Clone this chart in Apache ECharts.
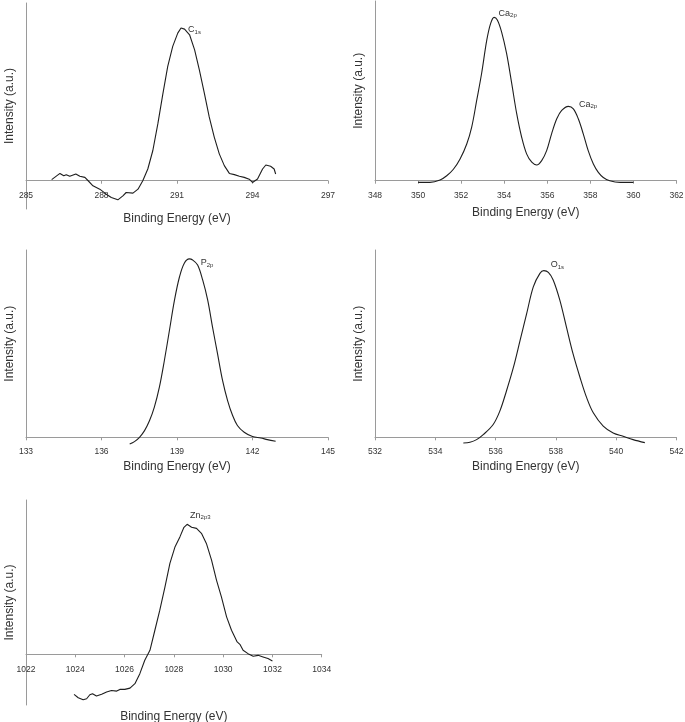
<!DOCTYPE html>
<html><head><meta charset="utf-8">
<script src="https://cdn.jsdelivr.net/npm/echarts@6/dist/echarts.min.js"></script>
<style>html,body{margin:0;padding:0;background:#fff}#c{width:685px;height:722px}</style>
</head><body><div id="c"></div><script>
// ---- data (binding energy eV, relative intensity) ----
const c1sX=[286.02,286.35,286.5,286.6,286.74,286.98,287.14,287.34,287.47,287.66,287.93,288.19,288.39,288.65,288.85,288.98,289.25,289.45,289.64,289.84,290.04,290.24,290.44,290.63,290.83,291.03,291.16,291.3,291.5,291.7,291.89,292.09,292.28,292.48,292.68,292.88,293.08,293.28,293.48,293.67,293.87,294.0,294.2,294.4,294.53,294.72,294.86,294.92];
const c1sY=[0.7,4.8,3.3,4,2.9,4.4,2.9,2.2,0,-3.3,-5.5,-8.8,-11,-12.5,-9.9,-7.7,-8.1,-5.5,0,7.7,19.8,37.4,57,74.7,88,96.7,100,99.3,95.6,85.7,72.5,57,41.8,28.6,17.6,9.9,4.8,4,3,2.2,1,-1.1,1.1,7.7,10.3,9.5,7.7,4.4];
const caX=[350.0,350.55,351.02,351.33,351.64,351.95,352.26,352.49,352.72,352.95,353.19,353.37,353.53,353.68,353.88,354.11,354.35,354.58,354.81,355.04,355.28,355.51,355.74,355.97,356.2,356.44,356.67,356.98,357.21,357.44,357.67,357.9,358.14,358.37,358.6,358.9,359.38,360];
const caY=[-1,-1,0.4,3,7,13.3,22.5,32.8,49,65.6,86,96.3,100,98.4,91,77.9,59.4,41,26.6,16.4,11.3,9.6,12.3,18.4,28.7,37.9,43,45.5,44,37.9,28.7,18.4,10.2,5.1,2,0,-1,-1];
const p2pX=[137.12,137.31,137.51,137.71,137.91,138.1,138.3,138.5,138.7,138.9,139.1,139.29,139.49,139.62,139.82,140.02,140.22,140.41,140.61,140.81,141.01,141.21,141.4,141.67,142,142.33,142.59,142.92];
const p2pY=[-3.75,-2.4,0,3.75,9.4,16.9,28.1,43.2,60,76.9,90,97.6,100,99.4,96.6,88.2,76.9,61.9,46.9,31.9,20.6,12.2,6.6,2.8,0.4,-0.4,-1.3,-2.25];
const o1sX=[534.93,535.15,535.37,535.59,535.92,536.14,536.36,536.59,536.81,537.03,537.25,537.47,537.6,537.75,537.91,538.13,538.35,538.57,538.8,539.02,539.24,539.57,539.9,540.23,540.56,540.95];
const o1sY=[-3.4,-3,-1.4,1.6,7.7,15.7,27.8,41.9,58,74.2,90.3,98.4,100,99,94.4,82.3,66.1,50,35.9,23.8,14.7,6.7,2.6,0.6,-1.4,-3.2];
const znX=[1023.95,1024.12,1024.32,1024.46,1024.59,1024.7,1024.86,1025.07,1025.27,1025.47,1025.68,1025.81,1026.01,1026.22,1026.42,1026.62,1026.82,1027.03,1027.23,1027.43,1027.64,1027.84,1028.05,1028.25,1028.41,1028.54,1028.72,1028.92,1029.12,1029.32,1029.53,1029.73,1029.93,1030.14,1030.34,1030.57,1030.68,1030.81,1031.01,1031.22,1031.42,1031.62,1031.82,1032];
const znY=[-30.8,-33.4,-35,-34.2,-31.1,-30.3,-32.1,-30.8,-29,-27.8,-28.3,-27,-27,-26,-22.6,-14.9,-4.6,3.1,18.5,33.9,51.9,69.9,82.8,90.5,97.7,100,97.7,96.9,93.1,85.3,72.5,57.1,44.2,28.8,18.5,9.5,7.7,3.1,0.5,-1.5,-0.8,-2,-3.3,-5.1];
// axis ranges
const xRanges=[[285,297,3],[348,362,2],[133,145,3],[532,542,2],[1022,1034,2]];
// peak annotations: [element, subscript, x, y]
const c1sAnn=[['C','1s',291.44,99]];
const caAnn=[['Ca','2p',353.74,102.6],['Ca','2p',357.47,46.9]];
const p2pAnn=[['P','2p',139.94,97.8]];
const o1sAnn=[['O','1s',537.83,103.4]];
const znAnn=[['Zn','2p3',1028.66,107]];
const xTitle='Binding Energy (eV)';
const yTitle='Intensity (a.u.)';

// ---- layout ----
const layout=[
 {grid:{left:26,top:3,width:302,height:206},ymin:-18.5,ymax:116.4,nameGap:4,labelMargin:-18,smooth:false},
 {grid:{left:375,top:1,width:301.5,height:179.7},ymin:0,ymax:110,nameGap:26,labelMargin:10,smooth:0.35},
 {grid:{left:26,top:250,width:302,height:187.3},ymin:0,ymax:105,nameGap:23,labelMargin:10,smooth:0.35},
 {grid:{left:375,top:250,width:301.5,height:187.3},ymin:0,ymax:112.4,nameGap:23,labelMargin:10,smooth:0.35},
 {grid:{left:26,top:500,width:295.7,height:205},ymin:-39,ymax:118.7,nameGap:6,labelMargin:-40,smooth:false}
];
const seriesData=[[c1sX,c1sY],[caX,caY],[p2pX,p2pY],[o1sX,o1sY],[znX,znY]];
const anns=[c1sAnn,caAnn,p2pAnn,o1sAnn,znAnn];
const FONT='"Liberation Sans", Arial, sans-serif';
const axisCol='#9a9a9a';

const option={animation:false,backgroundColor:'#fff',grid:[],xAxis:[],yAxis:[],series:[]};
layout.forEach((L,i)=>{
  option.grid.push(Object.assign({containLabel:false,outerBoundsMode:'none'},L.grid));
  const [mn,mx,iv]=xRanges[i];
  option.xAxis.push({type:'value',gridIndex:i,min:mn,max:mx,interval:iv,
    name:xTitle,nameLocation:'middle',nameGap:L.nameGap,
    nameTextStyle:{fontFamily:FONT,fontSize:12,color:'#333'},
    axisLine:{show:true,onZero:true,lineStyle:{color:axisCol,width:1}},
    axisTick:{show:true,length:3,lineStyle:{color:axisCol}},
    axisLabel:{show:true,margin:L.labelMargin,fontFamily:FONT,fontSize:8.5,color:'#333',
      showMinLabel:true,showMaxLabel:true,formatter:v=>String(v)},
    splitLine:{show:false}});
  option.yAxis.push({type:'value',gridIndex:i,min:L.ymin,max:L.ymax,
    name:yTitle,nameLocation:'middle',nameGap:10,
    nameTextStyle:{fontFamily:FONT,fontSize:12,color:'#333'},
    axisLine:{show:true,lineStyle:{color:axisCol,width:1}},
    axisTick:{show:false},axisLabel:{show:false},splitLine:{show:false}});
  const [xs,ys]=seriesData[i];
  option.series.push({type:'line',xAxisIndex:i,yAxisIndex:i,showSymbol:false,clip:false,
    smooth:L.smooth,data:xs.map((x,k)=>[x,ys[k]]),
    lineStyle:{color:'#1e1e1e',width:1.1},
    markPoint:{symbol:'circle',symbolSize:0,silent:true,
      data:anns[i].map(a=>({coord:[a[2],a[3]],
        label:{show:true,position:'right',distance:0,
          formatter:'{m|'+a[0]+'}{s|'+a[1]+'}',
          rich:{m:{fontFamily:FONT,fontSize:9,color:'#333'},
                s:{fontFamily:FONT,fontSize:6,color:'#333',padding:[5,0,0,0]}}}}))}
  });
});
const chart=echarts.init(document.getElementById('c'),null,{renderer:'canvas'});
chart.setOption(option);
</script></body></html>
